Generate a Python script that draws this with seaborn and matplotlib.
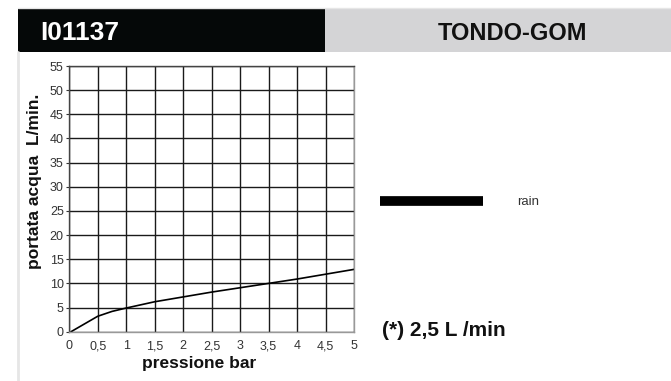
import numpy as np
import pandas as pd
import seaborn as sns
import matplotlib.pyplot as plt
from matplotlib.patches import Rectangle
from matplotlib.lines import Line2D

# data
pressure = [0.03, 0.5, 0.75, 1.0, 1.5, 2.0, 2.5, 3.0, 3.5, 4.0, 4.5, 5.0]
flow = [0.0, 3.2, 4.2, 4.9, 6.2, 7.2, 8.2, 9.1, 10.0, 10.9, 11.9, 12.9]
series_name = "rain"
x_ticks = [0, 0.5, 1, 1.5, 2, 2.5, 3, 3.5, 4, 4.5, 5]
x_tick_labels = ["0", "0,5", "1", "1,5", "2", "2,5", "3", "3,5", "4", "4,5", "5"]
y_ticks = [0, 5, 10, 15, 20, 25, 30, 35, 40, 45, 50, 55]
code_text = "I01137"
model_text = "TONDO-GOM"
note_text = "(*) 2,5 L /min"

sns.set_style("white")
plt.rcParams['font.family'] = ['Liberation Sans', 'DejaVu Sans']

df = pd.DataFrame({"pressione": pressure, "portata": flow, "serie": series_name})

fig = plt.figure(figsize=(6.71, 3.81), dpi=100)

# header bands
fig.add_artist(Rectangle((18/671, 1-52/381), (325-18)/671, 43/381,
                         transform=fig.transFigure, color="#050808", lw=0))
fig.add_artist(Rectangle((325/671, 1-52/381), (671-325)/671, 43/381,
                         transform=fig.transFigure, color="#d4d4d6", lw=0))
fig.add_artist(Line2D([18/671, 1], [1-8/381, 1-8/381], transform=fig.transFigure,
                      color="#e6e6e6", lw=1))
fig.add_artist(Line2D([18/671, 18/671], [0, 1-52/381], transform=fig.transFigure,
                      color="#e6e6e6", lw=2))
fig.text(40/671, 1-33/381, code_text, color="white", fontsize=19, fontweight="bold",
         ha="left", va="center")
fig.text(513/671, 1-33.5/381, model_text, color="#111111", fontsize=17, fontweight="bold",
         ha="center", va="center")

ax = fig.add_axes([69.3/671, 1-331.7/381, 284.7/671, 265.7/381])
sns.lineplot(data=df, x="pressione", y="portata", hue="serie", palette=["#000000"],
             linewidth=1.2, ax=ax)

ax.set_xlim(0, 5)
ax.set_ylim(0, 55)
ax.set_xticks(x_ticks)
ax.set_xticklabels(x_tick_labels)
ax.set_yticks(y_ticks)
ax.grid(True, color="#1a1a1a", lw=1)
ax.set_axisbelow(True)
ax.tick_params(axis="x", length=0, pad=6, labelsize=9, labelcolor="#333333")
ax.tick_params(axis="y", left=True, length=2.5, width=0.8, color="#333333", pad=1.5,
               labelsize=9, labelcolor="#333333")
for side in ["left", "top"]:
    ax.spines[side].set_color("#444444")
for side in ["right", "bottom"]:
    ax.spines[side].set_color("#999999")
for s in ax.spines.values():
    s.set_linewidth(1)

ax.set_xlabel("pressione bar", fontsize=12.5, fontweight="bold", color="#111111")
ax.xaxis.set_label_coords(0.4556, -0.0915)
ax.set_ylabel("portata acqua  L/min.", fontsize=12.5, fontweight="bold", color="#111111")
ax.yaxis.set_label_coords(-0.096, 0.567)

leg = ax.legend(loc="center left", bbox_to_anchor=(380/671, 1-202/381),
                bbox_transform=fig.transFigure, frameon=False, fontsize=9.5,
                handlelength=7.8, handletextpad=2.6, borderpad=0, borderaxespad=0)
for line in leg.get_lines():
    line.set_linewidth(7)
    line.set_solid_capstyle("butt")
for t in leg.get_texts():
    t.set_color("#333333")

fig.text(382/671, 1-331/381, note_text, fontsize=15, fontweight="bold",
         color="#111111", ha="left", va="center")

fig.savefig("out.png", dpi=100)
